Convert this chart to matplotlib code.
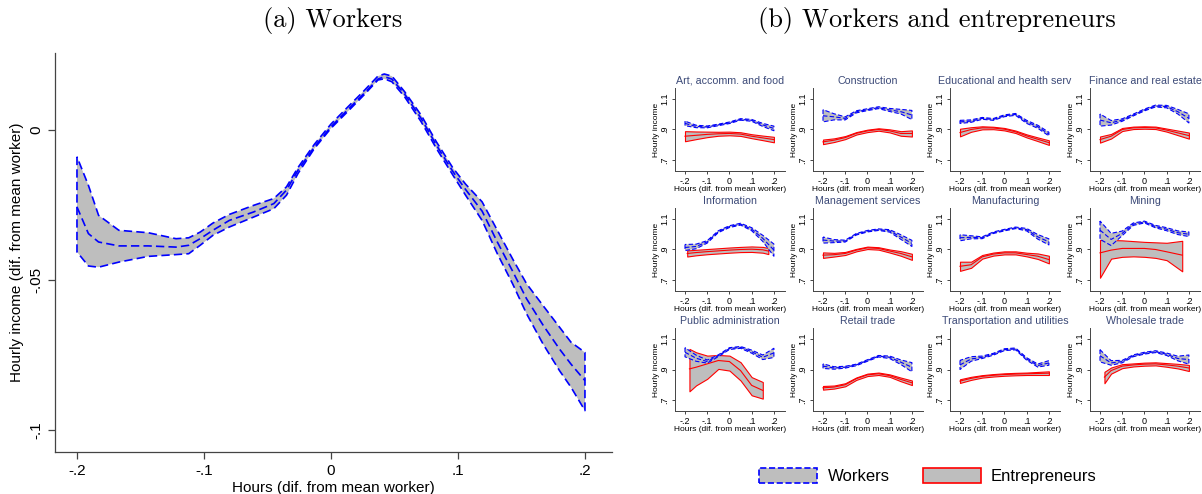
import matplotlib.pyplot as plt
from matplotlib.patches import Patch

plt.rcParams['font.family'] = ['Liberation Sans', 'DejaVu Sans']

# (a) Workers: smoothed hourly income vs hours
hours = [-0.200, -0.191, -0.183, -0.167, -0.144, -0.122, -0.112, -0.103, -0.093, -0.080,
         -0.061, -0.045, -0.035, -0.026, -0.013, 0.000, 0.013, 0.026, 0.037, 0.042,
         0.048, 0.058, 0.071, 0.083, 0.096, 0.106, 0.119, 0.131, 0.143, 0.154,
         0.167, 0.180, 0.189, 0.200]
workers_hi = [-0.0089, -0.0184, -0.0284, -0.0334, -0.0342, -0.0362, -0.0359, -0.0340, -0.0310, -0.0281,
              -0.0251, -0.0228, -0.0189, -0.0125, -0.0047, 0.0020, 0.0076, 0.0131, 0.0180, 0.0187,
              0.0180, 0.0128, 0.0050, -0.0039, -0.0126, -0.0180, -0.0239, -0.0334, -0.0429, -0.0512,
              -0.0585, -0.0657, -0.0707, -0.0741]
workers_mid = [-0.0256, -0.0345, -0.0373, -0.0386, -0.0386, -0.0390, -0.0384, -0.0362, -0.0334, -0.0301,
               -0.0273, -0.0245, -0.0200, -0.0134, -0.0056, 0.0011, 0.0067, 0.0122, 0.0170, 0.0178,
               0.0170, 0.0120, 0.0039, -0.0050, -0.0138, -0.0198, -0.0270, -0.0373, -0.0470, -0.0562,
               -0.0650, -0.0730, -0.0780, -0.0835]
workers_lo = [-0.0406, -0.0453, -0.0457, -0.0440, -0.0421, -0.0415, -0.0412, -0.0384, -0.0351, -0.0323,
              -0.0290, -0.0262, -0.0217, -0.0145, -0.0061, 0.0006, 0.0061, 0.0117, 0.0167, 0.0171,
              0.0161, 0.0111, 0.0028, -0.0061, -0.0150, -0.0217, -0.0301, -0.0412, -0.0512, -0.0612,
              -0.0713, -0.0802, -0.0857, -0.0935]

# (b) by sector
sectors = ["Art, accomm. and food", "Construction", "Educational and health serv",
           "Finance and real estate", "Information", "Management services",
           "Manufacturing", "Mining", "Public administration", "Retail trade",
           "Transportation and utilities", "Wholesale trade"]
sector_hours = [-0.2, -0.15, -0.1, -0.05, 0.0, 0.05, 0.1, 0.15, 0.2]

sec_workers_mid = {
    "Art, accomm. and food": [0.94, 0.92, 0.917, 0.93, 0.944, 0.966, 0.96, 0.93, 0.907],
    "Construction": [0.99, 0.983, 0.973, 1.016, 1.03, 1.043, 1.028, 1.017, 0.995],
    "Educational and health serv": [0.95, 0.955, 0.973, 0.966, 0.99, 0.999, 0.95, 0.918, 0.87],
    "Finance and real estate": [0.962, 0.944, 0.962, 0.995, 1.028, 1.054, 1.05, 1.017, 0.973],
    "Information": [0.913, 0.92, 0.95, 1.017, 1.05, 1.066, 1.033, 0.973, 0.896],
    "Management services": [0.962, 0.955, 0.955, 1.0, 1.02, 1.03, 1.022, 0.982, 0.94],
    "Manufacturing": [0.977, 0.98, 0.977, 1.01, 1.027, 1.042, 1.03, 0.983, 0.95],
    "Mining": [1.027, 0.966, 1.006, 1.066, 1.08, 1.05, 1.033, 1.01, 1.0],
    "Public administration": [1.013, 0.974, 0.952, 0.99, 1.037, 1.045, 1.017, 0.98, 1.009],
    "Retail trade": [0.922, 0.91, 0.915, 0.93, 0.959, 0.987, 0.98, 0.948, 0.915],
    "Transportation and utilities": [0.93, 0.969, 0.98, 1.0, 1.03, 1.035, 0.969, 0.926, 0.943],
    "Wholesale trade": [0.99, 0.943, 0.952, 0.99, 1.007, 1.017, 1.0, 0.972, 0.965],
}
sec_workers_half = {
    "Art, accomm. and food": [0.015, 0.008, 0.006, 0.005, 0.005, 0.005, 0.006, 0.01, 0.015],
    "Construction": [0.04, 0.02, 0.01, 0.007, 0.006, 0.006, 0.01, 0.015, 0.03],
    "Educational and health serv": [0.01, 0.008, 0.006, 0.006, 0.006, 0.006, 0.01, 0.01, 0.012],
    "Finance and real estate": [0.04, 0.015, 0.008, 0.006, 0.006, 0.006, 0.008, 0.015, 0.03],
    "Information": [0.02, 0.015, 0.008, 0.006, 0.006, 0.006, 0.01, 0.02, 0.04],
    "Management services": [0.02, 0.01, 0.006, 0.005, 0.005, 0.005, 0.008, 0.015, 0.02],
    "Manufacturing": [0.02, 0.01, 0.006, 0.005, 0.005, 0.005, 0.008, 0.015, 0.02],
    "Mining": [0.06, 0.04, 0.015, 0.008, 0.006, 0.008, 0.01, 0.012, 0.015],
    "Public administration": [0.03, 0.02, 0.01, 0.006, 0.006, 0.006, 0.01, 0.015, 0.03],
    "Retail trade": [0.015, 0.008, 0.006, 0.005, 0.005, 0.005, 0.008, 0.015, 0.03],
    "Transportation and utilities": [0.03, 0.015, 0.008, 0.006, 0.006, 0.006, 0.008, 0.01, 0.015],
    "Wholesale trade": [0.04, 0.015, 0.008, 0.006, 0.006, 0.006, 0.008, 0.015, 0.03],
}

ent_hours = {
    "Information": [-0.19, -0.15, -0.1, -0.05, 0.0, 0.05, 0.1, 0.15, 0.175],
    "Mining": [-0.2, -0.15, -0.1, -0.05, 0.0, 0.05, 0.1, 0.17],
    "Public administration": [-0.18, -0.15, -0.1, -0.05, 0.0, 0.05, 0.1, 0.15],
    "Wholesale trade": [-0.18, -0.15, -0.1, -0.05, 0.0, 0.05, 0.1, 0.15, 0.2],
}
ent_mid = {
    "Art, accomm. and food": [0.856, 0.862, 0.868, 0.872, 0.874, 0.870, 0.856, 0.845, 0.834],
    "Construction": [0.819, 0.830, 0.847, 0.875, 0.891, 0.900, 0.891, 0.874, 0.874],
    "Educational and health serv": [0.880, 0.900, 0.911, 0.910, 0.902, 0.885, 0.858, 0.836, 0.814],
    "Finance and real estate": [0.834, 0.856, 0.900, 0.911, 0.913, 0.911, 0.896, 0.878, 0.860],
    "Information": [0.874, 0.880, 0.886, 0.891, 0.896, 0.900, 0.902, 0.898, 0.890],
    "Management services": [0.863, 0.866, 0.874, 0.896, 0.911, 0.907, 0.890, 0.874, 0.852],
    "Manufacturing": [0.790, 0.800, 0.852, 0.870, 0.878, 0.878, 0.867, 0.856, 0.834],
    "Mining": [0.878, 0.896, 0.907, 0.907, 0.907, 0.900, 0.885, 0.863],
    "Public administration": [0.904, 0.915, 0.937, 0.959, 0.952, 0.893, 0.796, 0.763],
    "Retail trade": [0.780, 0.785, 0.800, 0.840, 0.865, 0.872, 0.860, 0.835, 0.813],
    "Transportation and utilities": [0.824, 0.842, 0.855, 0.862, 0.867, 0.870, 0.872, 0.874, 0.876],
    "Wholesale trade": [0.850, 0.893, 0.922, 0.930, 0.935, 0.937, 0.930, 0.922, 0.910],
}
ent_hi = {
    "Art, accomm. and food": [0.889, 0.887, 0.886, 0.885, 0.886, 0.882, 0.869, 0.860, 0.852],
    "Construction": [0.834, 0.842, 0.857, 0.883, 0.899, 0.908, 0.901, 0.889, 0.894],
    "Educational and health serv": [0.905, 0.915, 0.921, 0.918, 0.910, 0.893, 0.868, 0.848, 0.829],
    "Finance and real estate": [0.854, 0.871, 0.910, 0.919, 0.921, 0.919, 0.906, 0.893, 0.880],
    "Information": [0.894, 0.898, 0.903, 0.908, 0.913, 0.917, 0.920, 0.917, 0.910],
    "Management services": [0.881, 0.878, 0.884, 0.904, 0.919, 0.915, 0.900, 0.889, 0.872],
    "Manufacturing": [0.820, 0.820, 0.864, 0.880, 0.888, 0.888, 0.879, 0.874, 0.859],
    "Mining": [0.962, 0.962, 0.960, 0.955, 0.950, 0.947, 0.944, 0.957],
    "Public administration": [1.035, 1.013, 0.991, 0.995, 0.991, 0.948, 0.850, 0.818],
    "Retail trade": [0.792, 0.795, 0.810, 0.848, 0.873, 0.880, 0.868, 0.847, 0.828],
    "Transportation and utilities": [0.836, 0.852, 0.863, 0.870, 0.875, 0.878, 0.880, 0.884, 0.888],
    "Wholesale trade": [0.885, 0.913, 0.935, 0.940, 0.945, 0.947, 0.942, 0.937, 0.930],
}
ent_lo = {
    "Art, accomm. and food": [0.823, 0.837, 0.850, 0.859, 0.862, 0.858, 0.843, 0.830, 0.816],
    "Construction": [0.804, 0.818, 0.837, 0.867, 0.883, 0.892, 0.881, 0.859, 0.854],
    "Educational and health serv": [0.855, 0.885, 0.901, 0.902, 0.894, 0.877, 0.848, 0.824, 0.799],
    "Finance and real estate": [0.814, 0.841, 0.890, 0.903, 0.905, 0.903, 0.886, 0.863, 0.840],
    "Information": [0.854, 0.862, 0.869, 0.874, 0.879, 0.883, 0.884, 0.879, 0.870],
    "Management services": [0.845, 0.854, 0.864, 0.888, 0.903, 0.899, 0.880, 0.859, 0.832],
    "Manufacturing": [0.760, 0.780, 0.840, 0.860, 0.868, 0.868, 0.855, 0.838, 0.809],
    "Mining": [0.715, 0.840, 0.852, 0.855, 0.852, 0.845, 0.830, 0.757],
    "Public administration": [0.757, 0.796, 0.839, 0.904, 0.893, 0.828, 0.731, 0.709],
    "Retail trade": [0.768, 0.775, 0.790, 0.832, 0.857, 0.864, 0.852, 0.823, 0.798],
    "Transportation and utilities": [0.812, 0.832, 0.847, 0.854, 0.859, 0.862, 0.864, 0.864, 0.864],
    "Wholesale trade": [0.810, 0.873, 0.909, 0.920, 0.925, 0.927, 0.918, 0.907, 0.890],
}

x_ticks = [-0.2, -0.1, 0.0, 0.1, 0.2]
x_ticklabels = ["-.2", "-.1", "0", ".1", ".2"]
a_yticks = [0.0, -0.05, -0.1]
a_yticklabels = ["0", "-.05", "-.1"]
b_yticks = [0.7, 0.9, 1.1]
b_yticklabels = [".7", ".9", "1.1"]

BAND = '#bebebe'
TITLE_COL = '#3c4a78'
W, H = 1202, 494


def style_axes(ax):
    for s in ['top', 'right']:
        ax.spines[s].set_visible(False)
    for s in ['left', 'bottom']:
        ax.spines[s].set_color('#444444')
        ax.spines[s].set_linewidth(0.9)


fig = plt.figure(figsize=(W / 100, H / 100), dpi=100)

# ---- panel (a)
ax = fig.add_axes([55 / W, 1 - 452 / H, (612 - 55) / W, (452 - 53) / H])
ax.fill_between(hours, workers_lo, workers_hi, facecolor=BAND, edgecolor='#0000ff',
                linestyle=(0, (5, 2.5)), linewidth=1.2, zorder=2)
ax.plot(hours, workers_mid, color='#0000ff', linestyle=(0, (5, 2.5)), linewidth=1.2, zorder=3)
ax.set_xlim(-0.2173, 0.2213)
ax.set_ylim(-0.1073, 0.0257)
ax.set_xticks(x_ticks)
ax.set_xticklabels(x_ticklabels, fontsize=11)
ax.set_yticks(a_yticks)
ax.set_yticklabels(a_yticklabels, fontsize=11, rotation=90, va='center')
ax.tick_params(length=5, width=0.9, color='#444444')
ax.set_xlabel("Hours (dif. from mean worker)", fontsize=11, labelpad=2)
ax.set_ylabel("Hourly income (dif. from mean worker)", fontsize=11, labelpad=4)
style_axes(ax)

fig.text(333 / W, 1 - 20 / H, "(a) Workers", family='cmr10', fontsize=19,
         ha='center', va='center')
fig.text(937 / W, 1 - 20 / H, "(b) Workers and entrepreneurs", family='cmr10', fontsize=19,
         ha='center', va='center')

# ---- panel (b)
col_left = [675, 813, 950, 1090]
row_top = [88, 208, 328]
pw, ph = 110, 83

for i, name in enumerate(sectors):
    r, c = divmod(i, 4)
    sax = fig.add_axes([col_left[c] / W, 1 - (row_top[r] + ph) / H, pw / W, ph / H])

    ex = ent_hours.get(name, sector_hours)
    sax.fill_between(ex, ent_lo[name], ent_hi[name], facecolor=BAND, edgecolor='#ff0000',
                     linewidth=0.8, zorder=2)
    sax.plot(ex, ent_mid[name], color='#ff0000', linewidth=0.8, zorder=3)

    mid = sec_workers_mid[name]
    half = sec_workers_half[name]
    lo = [m - h for m, h in zip(mid, half)]
    hi = [m + h for m, h in zip(mid, half)]
    sax.fill_between(sector_hours, lo, hi, facecolor=BAND, edgecolor='#0000ff',
                     linestyle=(0, (4, 2)), linewidth=0.8, zorder=4)
    sax.plot(sector_hours, mid, color='#0000ff', linestyle=(0, (4, 2)), linewidth=0.8, zorder=5)

    sax.set_xlim(-0.245, 0.25)
    sax.set_ylim(0.628, 1.172)
    sax.set_xticks(x_ticks)
    sax.set_xticklabels(x_ticklabels, fontsize=6.5)
    sax.set_yticks(b_yticks)
    sax.set_yticklabels(b_yticklabels, fontsize=6.5, rotation=90, va='center')
    sax.tick_params(length=2.5, width=0.7, pad=1.5, color='#444444')
    sax.set_xlabel("Hours (dif. from mean worker)", fontsize=6, labelpad=0.5)
    sax.set_ylabel("Hourly income", fontsize=6, labelpad=0.5)
    sax.set_title(name, fontsize=7.7, color=TITLE_COL, pad=3)
    style_axes(sax)
    for s in ['left', 'bottom']:
        sax.spines[s].set_linewidth(0.7)

handles = [
    Patch(facecolor=BAND, edgecolor='#0000ff', linestyle='--', linewidth=1.2, label='Workers'),
    Patch(facecolor=BAND, edgecolor='#ff0000', linewidth=1.2, label='Entrepreneurs'),
]
fig.legend(handles=handles, loc='center', bbox_to_anchor=(928 / W, 1 - 476 / H), ncol=2,
           frameon=False, fontsize=12, handlelength=3.5, handleheight=1.0,
           columnspacing=2.0, handletextpad=0.6)

fig.savefig("out.png", dpi=100)
